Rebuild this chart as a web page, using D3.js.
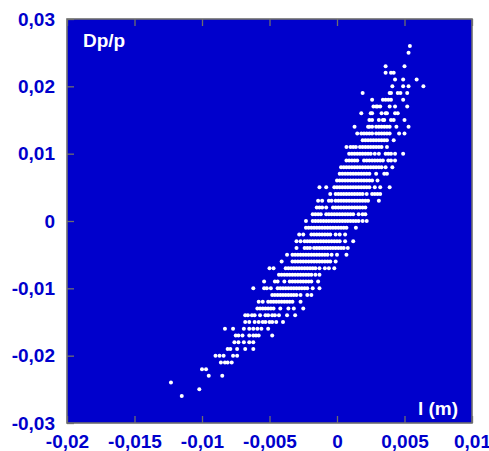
<!DOCTYPE html>
<html>
<head>
<meta charset="utf-8">
<script src="https://cdn.jsdelivr.net/npm/d3@7/dist/d3.min.js"></script>
<style>
  html, body { margin: 0; padding: 0; background: #ffffff; }
  svg { display: block; }
  text { font-family: "Liberation Sans", Arial, sans-serif; font-weight: bold; }
</style>
</head>
<body>
<svg id="chart" width="489" height="451"></svg>
<script>
// Axis ranges and tick labels (comma decimal separator)
const xDomain = [-0.02, 0.01];
const yDomain = [-0.03, 0.03];
const xTicks = [-0.02, -0.015, -0.01, -0.005, 0, 0.005, 0.01];
const xTickLabels = ["-0,02", "-0,015", "-0,01", "-0,005", "0", "0,005", "0,01"];
const yTicks = [-0.03, -0.02, -0.01, 0, 0.01, 0.02, 0.03];
const yTickLabels = ["-0,03", "-0,02", "-0,01", "0", "0,01", "0,02", "0,03"];

// Momentum deviation Dp/p of each row, in units of 1e-3
const dpRows = [26, 25, 23, 22, 21, 20, 19, 18, 17, 16, 15, 14, 13, 12, 11, 10, 9, 8, 7, 6, 5, 4, 3, 2, 1, 0,
  -1, -2, -3, -4, -5, -6, -7, -8, -9, -10, -11, -12, -13, -14, -15, -16, -17, -18, -19, -20, -21, -22, -23, -24, -25, -26];

// Longitudinal position l of the particles in each row, in mm
const lRows = [
  [5.4],
  [5.3],
  [3.6, 5.0],
  [3.6, 4.0, 4.2],
  [4.3, 4.9, 5.9],
  [4.1, 4.9, 5.3, 6.4],
  [1.9, 3.9, 4.0, 4.5, 4.7, 5.2],
  [2.6, 3.4, 3.6, 3.8, 4.0, 4.9],
  [2.7, 2.9, 3.0, 3.2, 3.9, 4.3, 5.2],
  [1.8, 2.5, 2.6, 3.3, 3.6, 3.7, 4.3, 4.5],
  [2.4, 2.6, 3.1, 3.4, 3.5, 4.0, 4.2, 5.0],
  [1.3, 2.3, 2.4, 2.6, 2.9, 3.1, 3.3, 3.5, 3.7, 3.9, 4.4, 5.3],
  [1.5, 1.8, 2.0, 2.2, 2.4, 2.6, 2.9, 3.1, 3.3, 3.5, 3.7, 3.9, 4.6, 5.0],
  [1.9, 2.1, 2.3, 2.5, 2.7, 2.9, 3.1, 3.3, 3.5, 3.7, 4.2],
  [0.7, 1.0, 1.2, 1.4, 1.7, 1.9, 2.1, 2.3, 2.5, 2.7, 2.9, 3.1, 3.3, 3.7],
  [0.9, 1.1, 1.3, 1.5, 1.7, 1.9, 2.1, 2.3, 2.5, 2.8, 3.1, 3.6, 3.8, 4.0, 4.3, 4.9],
  [0.7, 0.9, 1.1, 1.3, 1.5, 2.0, 2.2, 2.4, 2.6, 2.8, 3.0, 3.2, 3.4, 3.8, 4.0, 4.3],
  [0.3, 0.5, 0.7, 0.9, 1.1, 1.3, 1.5, 1.7, 1.9, 2.1, 2.3, 2.5, 2.7, 2.9, 3.1, 3.3, 3.6, 4.1],
  [0.2, 0.4, 0.6, 0.8, 1.0, 1.2, 1.4, 1.6, 1.8, 2.0, 2.2, 2.4, 2.9, 3.5, 3.7],
  [0.0, 0.2, 0.4, 0.6, 0.8, 1.0, 1.2, 1.4, 1.6, 1.8, 2.0, 2.2, 2.4, 2.6, 3.0],
  [-1.3, -0.8, -0.2, 0.0, 0.2, 0.4, 0.6, 0.8, 1.0, 1.2, 1.4, 1.6, 1.8, 2.0, 2.2, 2.4, 2.8, 3.2, 3.9],
  [-0.5, -0.1, 0.1, 0.3, 0.5, 0.7, 0.9, 1.1, 1.3, 1.5, 1.7, 1.9, 2.2, 2.6, 2.8, 3.0, 3.2],
  [-1.4, -1.1, -0.6, -0.4, -0.1, 0.1, 0.3, 0.5, 0.7, 0.9, 1.1, 1.3, 1.5, 1.7, 1.9, 2.1, 2.3, 3.1],
  [-1.5, -1.3, -1.1, -0.8, -0.3, -0.1, 0.1, 0.3, 0.5, 0.7, 0.9, 1.1, 1.3, 1.5, 1.7, 1.9, 2.1],
  [-1.8, -1.6, -1.4, -1.2, -0.8, -0.6, -0.4, -0.2, 0.0, 0.2, 0.4, 0.6, 0.8, 1.0, 1.2, 1.6, 1.9, 2.1],
  [-2.3, -1.8, -1.6, -1.4, -1.2, -1.0, -0.8, -0.6, -0.4, -0.2, 0.0, 0.2, 0.4, 0.6, 0.8, 1.0, 1.2, 1.4, 1.6, 1.9, 2.2],
  [-2.3, -2.1, -1.9, -1.7, -1.5, -1.3, -1.1, -0.9, -0.7, -0.5, -0.3, -0.1, 0.1, 0.3, 0.5, 0.7, 1.4],
  [-2.8, -2.5, -1.9, -1.7, -1.5, -1.3, -1.1, -0.9, -0.7, -0.5, -0.1, 0.2, 0.6],
  [-3.0, -2.7, -2.4, -2.2, -2.0, -1.8, -1.6, -1.4, -1.2, -1.0, -0.8, -0.6, -0.4, -0.2, 0.0, 0.2, 0.6, 1.2],
  [-3.0, -2.4, -2.2, -2.0, -1.7, -1.5, -1.3, -1.1, -0.9, -0.7, -0.5, -0.3, -0.1, 0.1, 0.3, 0.5, 0.8],
  [-3.7, -3.3, -3.1, -2.9, -2.7, -2.5, -2.3, -2.1, -1.9, -1.7, -1.5, -1.3, -1.1, -0.9, -0.7, -0.4, 0.0, 0.7],
  [-4.1, -3.3, -3.1, -2.9, -2.7, -2.5, -2.3, -2.1, -1.9, -1.7, -1.5, -1.3, -1.1, -0.9, -0.7, -0.5, -0.1],
  [-5.0, -4.7, -3.8, -3.6, -3.4, -3.2, -3.0, -2.8, -2.6, -2.4, -2.2, -2.0, -1.8, -1.6, -1.3, -0.9, -0.6, -0.2],
  [-4.3, -4.1, -3.9, -3.7, -3.5, -3.3, -3.1, -2.9, -2.7, -2.5, -2.3, -2.1, -1.9, -1.6, -1.3],
  [-5.4, -4.6, -4.4, -3.9, -3.5, -3.3, -3.1, -2.9, -2.7, -2.5, -2.3, -2.1, -1.9, -1.4],
  [-6.2, -5.4, -5.2, -4.9, -4.4, -4.2, -4.0, -3.8, -3.6, -3.4, -3.2, -3.0, -2.8, -2.6, -2.4, -2.2, -1.8, -1.3],
  [-4.8, -4.6, -4.4, -4.2, -4.0, -3.8, -3.6, -3.4, -3.2, -3.0, -2.7, -2.2, -1.9],
  [-5.8, -5.5, -5.1, -4.9, -4.7, -4.5, -4.3, -4.1, -3.9, -3.7, -3.5, -3.3, -2.7],
  [-5.9, -5.7, -5.5, -5.3, -5.1, -4.9, -4.7, -4.2, -3.6, -3.2, -2.5],
  [-6.8, -6.6, -6.3, -6.1, -5.7, -5.3, -5.1, -4.8, -4.6, -4.3, -3.7, -3.1],
  [-6.8, -6.5, -6.1, -5.8, -5.5, -5.3, -5.0, -4.8, -4.5, -4.0],
  [-8.3, -7.7, -6.9, -6.5, -6.2, -5.9, -5.6, -5.1],
  [-7.5, -7.3, -7.0, -6.5, -6.2, -6.0, -5.8, -4.8],
  [-7.6, -7.3, -6.9, -6.5, -6.2],
  [-8.1, -7.9, -7.4, -6.8, -6.2],
  [-9.0, -8.7, -8.4, -7.7, -7.4],
  [-8.6, -8.3, -8.1, -7.8],
  [-10.0, -9.7],
  [-9.5, -8.5],
  [-12.3],
  [-10.2],
  [-11.5]
];

// Flatten rows into (l [m], Dp/p) pairs
const particles = [];
dpRows.forEach((dp, i) => {
  lRows[i].forEach(lmm => particles.push({ l: lmm / 1000, dp: dp / 1000 }));
});

const svg = d3.select("#chart");
const plot = { left: 67, right: 472, top: 19, bottom: 423 };
const blue = "#0000cc";
const frameColor = "#6e6e6e";

const x = d3.scaleLinear().domain(xDomain).range([plot.left, plot.right]);
const y = d3.scaleLinear().domain(yDomain).range([plot.bottom, plot.top]);

// Plot area background
svg.append("rect")
  .attr("x", plot.left).attr("y", plot.top)
  .attr("width", plot.right - plot.left).attr("height", plot.bottom - plot.top)
  .attr("fill", blue);

// Particles
svg.append("g")
  .selectAll("circle")
  .data(particles)
  .join("circle")
  .attr("cx", d => x(d.l))
  .attr("cy", d => y(d.dp))
  .attr("r", 2)
  .attr("fill", "#ffffff");

// Axes with inward ticks
const xAxis = d3.axisBottom(x)
  .tickValues(xTicks)
  .tickFormat((d, i) => xTickLabels[i])
  .tickSizeInner(-7).tickSizeOuter(0).tickPadding(11.5);
const yAxis = d3.axisLeft(y)
  .tickValues(yTicks)
  .tickFormat((d, i) => yTickLabels[i])
  .tickSizeInner(-7).tickSizeOuter(0).tickPadding(12);
const xTop = d3.axisTop(x)
  .tickValues(xTicks)
  .tickFormat("")
  .tickSizeInner(-7).tickSizeOuter(0);

function styleAxis(g) {
  g.select(".domain").remove();
  g.selectAll(".tick line").attr("stroke", frameColor).attr("stroke-width", 1.3);
  g.selectAll(".tick text")
    .attr("fill", blue)
    .style("font-family", "'Liberation Sans', Arial, sans-serif")
    .style("font-weight", "bold")
    .style("font-size", "19px");
}

svg.append("g").attr("transform", `translate(0,${plot.bottom})`).call(xAxis).call(styleAxis);
svg.append("g").attr("transform", `translate(${plot.left},0)`).call(yAxis).call(styleAxis);
svg.append("g").attr("transform", `translate(0,${plot.top})`).call(xTop).call(styleAxis);

// Plot frame
svg.append("rect")
  .attr("x", plot.left).attr("y", plot.top)
  .attr("width", plot.right - plot.left).attr("height", plot.bottom - plot.top)
  .attr("fill", "none")
  .attr("stroke", frameColor)
  .attr("stroke-width", 1.6);

// Axis titles inside the plot area
svg.append("text")
  .attr("x", 83).attr("y", 47)
  .attr("fill", "#ffffff")
  .style("font-size", "19px")
  .text("Dp/p");

svg.append("text")
  .attr("x", 458).attr("y", 415)
  .attr("text-anchor", "end")
  .attr("fill", "#ffffff")
  .style("font-size", "19px")
  .text("l (m)");
</script>
</body>
</html>
